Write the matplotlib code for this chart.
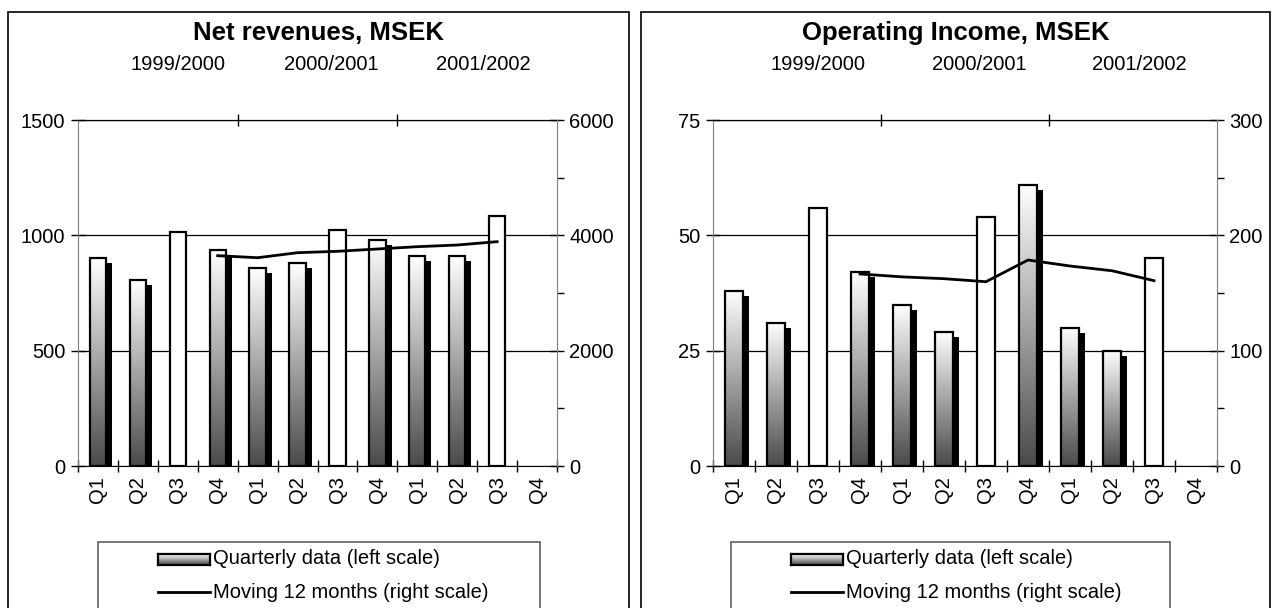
import matplotlib
matplotlib.use('Agg')
import matplotlib.pyplot as plt
import numpy as np
from matplotlib.patches import Rectangle
from matplotlib.lines import Line2D
from matplotlib.colors import LinearSegmentedColormap
from matplotlib import transforms

plt.rcParams['font.family'] = ['Liberation Sans', 'DejaVu Sans']

W, H = 1278, 608

quarters = ['Q1', 'Q2', 'Q3', 'Q4'] * 3
years = ['1999/2000', '2000/2001', '2001/2002']
year_pos = [2.0, 5.85, 9.65]

# net revenues, MSEK
rev_quarterly = [900, 805, 1015, 936, 858, 881, 1025, 981, 912, 912, 1082]
rev_moving = [3647, 3612, 3699, 3723, 3763, 3803, 3832, 3890]

# operating income, MSEK
inc_quarterly = [38, 31, 56, 42, 35, 29, 54, 61, 30, 25, 45]
inc_moving = [166.5, 164, 162.4, 159.8, 178.6, 173.4, 169.3, 160.7]
moving_start = 3

grad = LinearSegmentedColormap.from_list('g', ['white', '#4a4a4a'])
FS = 14.5


def fbox(x0, y0, x1, y1):
    return [x0 / W, 1 - y1 / H, (x1 - x0) / W, (y1 - y0) / H]


def panel(fig, axbox, frame, legbox, title, bars, moving, lmax, rmax):
    ax = fig.add_axes(fbox(*axbox))
    x = np.arange(len(bars))
    width = 0.41

    # shadow bars, shifted a few pixels right/down
    shadow_tr = transforms.offset_copy(ax.transData, fig=fig, x=6, y=-5, units='dots')
    for i, v in enumerate(bars):
        if quarters[i] == 'Q3':
            ax.bar(i, v, width, facecolor='white', edgecolor='black', lw=1.6, zorder=3)
            continue
        ax.bar(i, v, width, color='black', transform=shadow_tr, zorder=2)
        b = ax.bar(i, v, width, facecolor='none', edgecolor='black', lw=1.6, zorder=3)[0]
        im = ax.imshow(np.linspace(0, 1, 256).reshape(-1, 1), cmap=grad, aspect='auto',
                       extent=[i - width / 2, i + width / 2, 0, v], zorder=2.5)
        im.set_clip_path(b)

    ax.set_xlim(-0.5, 11.5)
    ax.set_ylim(0, lmax)
    ax.set_yticks(np.linspace(0, lmax, 4))
    ax.yaxis.set_major_formatter(matplotlib.ticker.FormatStrFormatter('%d'))
    ax.grid(axis='y', color='black', lw=0.9)
    ax.set_xticks(np.arange(-0.5, 12, 1), labels=[''] * 13)
    ax.set_xticks(x.tolist() + [11], labels=quarters, minor=True)
    ax.tick_params(axis='x', which='major', direction='inout', length=9, width=1)
    ax.tick_params(axis='x', which='minor', length=0, pad=7, labelsize=FS, labelrotation=90)
    ax.tick_params(axis='y', direction='inout', length=10, width=1, labelsize=FS, pad=4)
    ax.spines['left'].set_color('#808080')
    ax.spines['right'].set_visible(False)
    ax.spines['top'].set_color('black')

    top = ax.secondary_xaxis('top')
    top.set_xticks([3.5, 7.5], labels=['', ''])
    top.tick_params(direction='inout', length=9, width=1)

    tr = transforms.blended_transform_factory(ax.transData, ax.transAxes)
    for p, yname in zip(year_pos, years):
        ax.text(p, 1.16, yname, transform=tr, ha='center', va='center', fontsize=FS)

    ax2 = ax.twinx()
    ax2.plot(np.arange(moving_start, moving_start + len(moving)), moving,
             color='black', lw=2)
    ax2.set_ylim(0, rmax)
    ax2.set_yticks(np.linspace(0, rmax, 4))
    ax2.set_yticks(np.linspace(rmax / 6, rmax * 5 / 6, 3), minor=True)
    ax2.yaxis.set_major_formatter(matplotlib.ticker.FormatStrFormatter('%d'))
    ax2.tick_params(axis='y', which='major', direction='inout', length=10, width=1,
                    labelsize=FS, pad=4)
    ax2.tick_params(axis='y', which='minor', direction='out', length=5, width=1)
    for s in ['left', 'top', 'bottom']:
        ax2.spines[s].set_visible(False)
    ax2.spines['right'].set_color('#808080')

    # panel frame and title
    fx0, fx1 = frame
    fig.patches.append(Rectangle((fx0 / W, -0.1), (fx1 - fx0) / W, 1 - 12 / H + 0.1,
                                 transform=fig.transFigure, fill=False, ec='black', lw=1.2))
    fig.text((fx0 + fx1) / 2 / W, 1 - 33 / H, title, ha='center', va='center',
             fontsize=18.5, fontweight='bold')

    # legend
    lx0, lx1 = legbox
    fig.patches.append(Rectangle((lx0 / W, -0.1), (lx1 - lx0) / W, 1 - 542 / H + 0.1,
                                 transform=fig.transFigure, fill=False, ec='#606060', lw=1.2))
    sx = lx0 + 60
    sw = fig.add_axes(fbox(sx, 554, sx + 52, 565))
    sw.imshow(np.linspace(0, 1, 64).reshape(-1, 1), cmap=grad, aspect='auto')
    sw.set_xticks([])
    sw.set_yticks([])
    for s in sw.spines.values():
        s.set_linewidth(1.6)
    fig.lines.append(Line2D([sx / W, (sx + 52) / W], [1 - 592 / H] * 2,
                            transform=fig.transFigure, color='black', lw=2))
    fig.text((sx + 55) / W, 1 - 559 / H, 'Quarterly data (left scale)',
             va='center', fontsize=FS)
    fig.text((sx + 55) / W, 1 - 592 / H, 'Moving 12 months (right scale)',
             va='center', fontsize=FS)
    return ax


fig = plt.figure(figsize=(W / 100, H / 100), dpi=100)
panel(fig, (78, 120, 557, 466), (8, 629), (98, 540), 'Net revenues, MSEK',
      rev_quarterly, rev_moving, 1500, 6000)
panel(fig, (713, 120, 1217, 466), (641, 1270), (731, 1170), 'Operating Income, MSEK',
      inc_quarterly, inc_moving, 75, 300)
fig.savefig('out.png', dpi=100)
